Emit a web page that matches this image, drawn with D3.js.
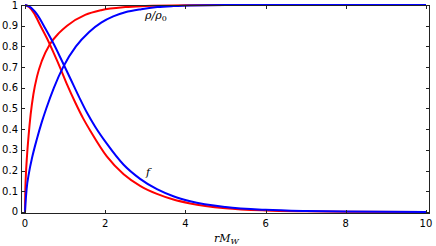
<!DOCTYPE html>
<html><head><meta charset="utf-8">
<script src="https://cdn.jsdelivr.net/npm/d3@7"></script>
<style>body{margin:0;background:#fff}svg{display:block}</style>
</head><body>
<script>
const xTicks = [0, 2, 4, 6, 8, 10];
const yTicks = [0, 0.1, 0.2, 0.3, 0.4, 0.5, 0.6, 0.7, 0.8, 0.9, 1];
const yTickLabels = ["0","0.1","0.2","0.3","0.4","0.5","0.6","0.7","0.8","0.9","1"];

const rhoRed = [[0,0],[0.005,0.08],[0.02,0.17],[0.05,0.27],[0.09,0.37],[0.14,0.47],[0.21,0.57],[0.3,0.655],[0.42,0.73],[0.62,0.81],[0.85,0.865],[1.05,0.9],[1.5,0.952],[1.9,0.975],[2.5,0.99],[3,0.995],[4,0.999],[5,1],[10,1]];
const rhoBlue = [[0,0],[0.012,0.04],[0.04,0.11],[0.1,0.19],[0.18,0.265],[0.3,0.355],[0.42,0.435],[0.53,0.5],[0.72,0.6],[0.95,0.7],[1.27,0.8],[1.6,0.87],[1.9,0.915],[2.2,0.945],[2.5,0.965],[2.9,0.98],[3.3,0.99],[3.7,0.995],[4.1,0.998],[5,0.9995],[6,1],[10,1]];
const fRed = [[0,1],[0.1,0.99],[0.22,0.962],[0.385,0.9],[0.55,0.838],[0.72,0.766],[0.88,0.695],[1.05,0.615],[1.25,0.53],[1.45,0.452],[1.65,0.385],[2.04,0.268],[2.46,0.182],[2.87,0.126],[3.29,0.087],[3.7,0.06],[4.12,0.041],[5,0.018],[6,0.007],[7,0.003],[8,0.001],[10,0]];
const fBlue = [[0,1],[0.1,0.993],[0.3,0.955],[0.51,0.885],[0.72,0.81],[0.925,0.728],[1.13,0.645],[1.35,0.555],[1.55,0.478],[1.75,0.412],[2.04,0.33],[2.46,0.228],[2.87,0.16],[3.29,0.11],[3.7,0.076],[4.12,0.052],[5,0.024],[6,0.01],[7,0.004],[8,0.0015],[10,0]];

const W = 436, H = 246;
const L = 21, R = 430, T = 5, B = 214;
const svg = d3.select("body").append("svg").attr("width", W).attr("height", H);
const x = d3.scaleLinear().domain([-0.1, 10.1]).range([L, R]);
const y = d3.scaleLinear().domain([-0.01, 1]).range([B, T]);

const line = d3.line().x(d => x(d[0])).y(d => y(d[1])).curve(d3.curveMonotoneX);
const g = svg.append("g");
[[fRed,"#ff0000"],[rhoRed,"#ff0000"],[fBlue,"#0000ff"],[rhoBlue,"#0000ff"]].forEach(([d,c]) => {
  g.append("path").datum(d).attr("d", line).attr("fill","none").attr("stroke", c).attr("stroke-width", 2);
});

// frame
svg.append("rect").attr("x", L+0.5).attr("y", T+0.5).attr("width", R-L-1).attr("height", B-T-1)
  .attr("fill","none").attr("stroke","#222").attr("stroke-width",1);

// ticks
const tk = svg.append("g").attr("stroke","#222").attr("stroke-width",1);
xTicks.forEach(v => {
  const px = Math.round(x(v)) + 0.5;
  tk.append("line").attr("x1",px).attr("x2",px).attr("y1",B).attr("y2",B-4);
  tk.append("line").attr("x1",px).attr("x2",px).attr("y1",T).attr("y2",T+4);
});
yTicks.forEach(v => {
  const py = Math.round(y(v)) + 0.5;
  tk.append("line").attr("x1",L).attr("x2",L+4).attr("y1",py).attr("y2",py);
  tk.append("line").attr("x1",R).attr("x2",R-4).attr("y1",py).attr("y2",py);
});

const font = "DejaVu Sans, sans-serif";
svg.append("g").selectAll("text").data(xTicks).join("text")
  .attr("x", d => x(d)).attr("y", 227).attr("text-anchor","middle")
  .attr("font-family", font).attr("font-size", 10).attr("fill","#000").text(d => d);
svg.append("g").selectAll("text").data(yTicks).join("text")
  .attr("x", 18).attr("y", d => y(d) + 3.5).attr("text-anchor","end")
  .attr("font-family", font).attr("font-size", 10).attr("fill","#000").text((d,i) => yTickLabels[i]);

const serif = "DejaVu Serif, serif";
svg.append("text").attr("x", 214).attr("y", 242).attr("font-family", serif).attr("font-style","italic")
  .attr("font-size", 11).attr("fill","#000")
  .html('rM<tspan font-size="8" dy="2">W</tspan>');
svg.append("text").attr("x", 145).attr("y", 19).attr("font-family", serif).attr("font-style","italic")
  .attr("font-size", 11).attr("fill","#000")
  .html('ρ/ρ<tspan font-size="8" dy="2" font-style="normal">0</tspan>');
svg.append("text").attr("x", 146).attr("y", 176).attr("font-family", serif).attr("font-style","italic")
  .attr("font-size", 11).attr("fill","#000").text("f");
</script>
</body></html>
